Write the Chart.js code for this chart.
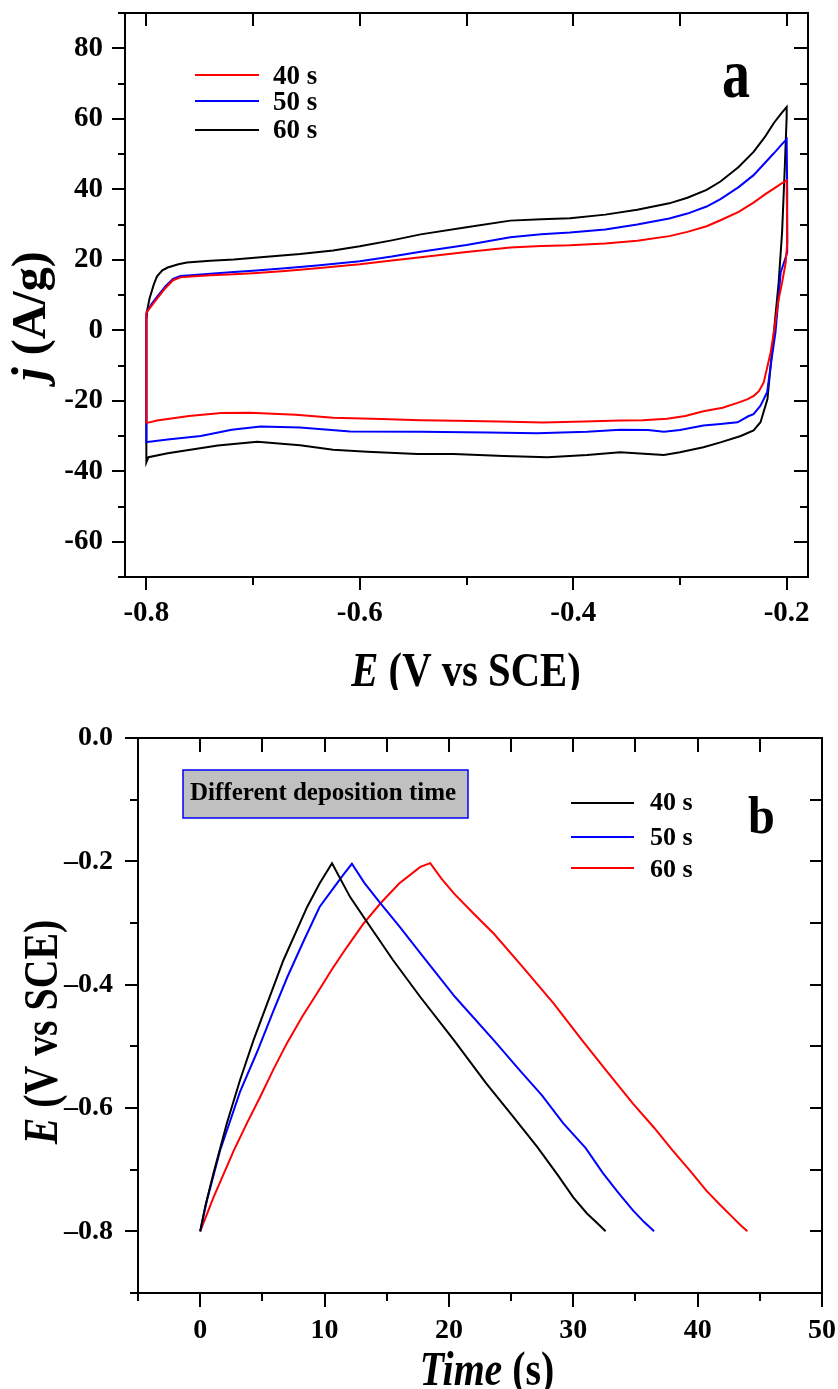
<!DOCTYPE html>
<html>
<head>
<meta charset="utf-8">
<script src="https://cdn.jsdelivr.net/npm/chart.js@4.4.1/dist/chart.umd.min.js"></script>
<style>
  html, body { margin: 0; padding: 0; background: #fff; }
  #wrap { position: relative; width: 838px; height: 1389px; overflow: hidden; }
  canvas { position: absolute; left: 0; }
  #cv { top: 0; }
  #gcd { top: 690px; }
</style>
</head>
<body>
<div id="wrap">
  <canvas id="cv" width="838" height="690"></canvas>
  <canvas id="gcd" width="838" height="699"></canvas>
</div>
<script>
// ---- (a) cyclic voltammograms: potential E (V vs SCE) and current density j (A/g) ----
const cvLabels = ['40 s', '50 s', '60 s'];
const cvColors = ['#ff0000', '#0000ff', '#000000'];

const cvE40 = [-0.800, -0.795, -0.790, -0.782, -0.775, -0.768, -0.755, -0.740, -0.718, -0.700, -0.670, -0.640, -0.600, -0.570, -0.543, -0.500, -0.459, -0.430, -0.403, -0.370, -0.340, -0.310, -0.293, -0.275, -0.262, -0.245, -0.231, -0.220, -0.212, -0.205, -0.200,
  -0.1994, -0.2010, -0.2043, -0.2075, -0.2120, -0.2150, -0.2215, -0.2260, -0.2308, -0.2370, -0.2460, -0.2600, -0.2780, -0.2950, -0.3120, -0.3350, -0.3560, -0.3900, -0.4280, -0.4700, -0.5100, -0.5430, -0.5800, -0.6250, -0.6600, -0.7030, -0.7300, -0.7600, -0.7900, -0.7980, -0.8000, -0.8000];
const cvJ40 = [5, 7, 9, 12, 14.2, 15, 15.3, 15.6, 15.9, 16.2, 16.8, 17.6, 18.7, 19.8, 20.7, 22.2, 23.5, 23.9, 24.1, 24.6, 25.4, 26.7, 27.9, 29.5, 31.2, 33.6, 36.2, 38.6, 40.2, 41.6, 42.5,
  24.9, 19, 13.5, 8.8, -0.6, -6.3, -14.8, -17.3, -18.6, -19.6, -20.6, -22, -23, -24.3, -25.1, -25.5, -25.6, -25.9, -26.2, -25.9, -25.7, -25.5, -25.2, -24.8, -24, -23.4, -23.5, -24.3, -25.6, -26.2, -26.2, 5];

const cvE50 = [-0.800, -0.795, -0.790, -0.782, -0.775, -0.768, -0.755, -0.740, -0.718, -0.700, -0.670, -0.640, -0.600, -0.570, -0.543, -0.500, -0.459, -0.430, -0.403, -0.370, -0.340, -0.310, -0.293, -0.275, -0.262, -0.245, -0.231, -0.220, -0.212, -0.205, -0.200,
  -0.1995, -0.1995, -0.2056, -0.2105, -0.2145, -0.2183, -0.2245, -0.2310, -0.2360, -0.2460, -0.2620, -0.2780, -0.3000, -0.3150, -0.3300, -0.3560, -0.3870, -0.4340, -0.4800, -0.5430, -0.6090, -0.6560, -0.6930, -0.7200, -0.7490, -0.7800, -0.7990, -0.8000, -0.8000];
const cvJ50 = [5, 7.5, 9.5, 12.5, 14.6, 15.4, 15.7, 16, 16.5, 16.9, 17.6, 18.4, 19.6, 20.9, 22.3, 24.2, 26.4, 27.2, 27.7, 28.6, 30, 31.7, 33.1, 35.1, 37.2, 40.6, 44, 47.6, 50.2, 52.6, 54.2,
  40, 22, 16.4, -0.7, -9, -17.6, -21.4, -23.8, -24.4, -26.1, -26.6, -27, -28.3, -28.8, -28.3, -28.2, -28.8, -29.2, -29, -28.8, -28.7, -27.6, -27.3, -28.2, -30, -31, -31.7, -31.7, 5];

const cvE60 = [-0.800, -0.799, -0.797, -0.793, -0.790, -0.785, -0.780, -0.770, -0.762, -0.740, -0.718, -0.690, -0.656, -0.625, -0.600, -0.570, -0.543, -0.500, -0.459, -0.430, -0.403, -0.370, -0.340, -0.310, -0.293, -0.275, -0.262, -0.245, -0.231, -0.220, -0.212, -0.205, -0.200,
  -0.2000, -0.2017, -0.2043, -0.2075, -0.2120, -0.2150, -0.2180, -0.2245, -0.2310, -0.2430, -0.2620, -0.2780, -0.3000, -0.3150, -0.3300, -0.3560, -0.3870, -0.4240, -0.4650, -0.5120, -0.5460, -0.5930, -0.6250, -0.6560, -0.6960, -0.7330, -0.7800, -0.7980, -0.8000, -0.8000];
const cvJ60 = [3, 6, 9, 13, 15.3, 17, 17.8, 18.7, 19.2, 19.7, 20.1, 20.8, 21.6, 22.6, 23.8, 25.5, 27.2, 29.2, 31.1, 31.5, 31.8, 32.8, 34.2, 36, 37.6, 39.8, 42.2, 46.3, 50.6, 55, 58.8, 61.5, 63.3,
  60.5, 46.5, 27.7, 13.5, -0.6, -10.1, -19.5, -26.1, -28.4, -30, -31.8, -33.2, -34.6, -35.4, -35.1, -34.6, -35.4, -36, -35.7, -35.1, -35.1, -34.5, -33.9, -32.6, -31.6, -32.7, -34.9, -36, -37.5, 3];

const cvTickE = [-0.8, -0.6, -0.4, -0.2];
const cvTickJ = [-60, -40, -20, 0, 20, 40, 60, 80];

// ---- (b) galvanostatic charge/discharge: time (s) and potential E (V vs SCE) ----
const gcdLabels = ['40 s', '50 s', '60 s'];
const gcdColors = ['#000000', '#0000ff', '#ff0000'];

const gcdT40 = [0, 0.4, 1.07, 2.14, 3.2, 4.29, 5.4, 6.7, 8.6, 9.6, 10.6, 12.06, 13.4, 15.5, 17.7, 20.4, 23.0, 25.0, 27.1, 28.8, 30.0, 31.1, 32.0, 32.6];
const gcdE40 = [-0.8, -0.76, -0.706, -0.625, -0.555, -0.49, -0.43, -0.36, -0.274, -0.236, -0.203, -0.258, -0.298, -0.36, -0.42, -0.49, -0.56, -0.61, -0.663, -0.71, -0.745, -0.771, -0.788, -0.80];

const gcdT50 = [0, 0.54, 1.6, 3.2, 4.6, 5.8, 7.0, 8.3, 9.6, 10.7, 11.5, 12.2, 13.2, 14.5, 16.0, 17.7, 20.5, 23.6, 25.7, 27.5, 29.2, 31.0, 32.4, 33.6, 34.8, 35.7, 36.5];
const gcdE50 = [-0.8, -0.75, -0.669, -0.574, -0.508, -0.447, -0.388, -0.33, -0.274, -0.244, -0.222, -0.204, -0.235, -0.268, -0.305, -0.349, -0.42, -0.49, -0.539, -0.58, -0.625, -0.665, -0.706, -0.737, -0.766, -0.785, -0.80];

const gcdT60 = [0, 1.07, 2.7, 3.8, 4.8, 5.9, 7.0, 8.2, 9.4, 10.6, 11.8, 13.1, 14.5, 16.0, 17.7, 18.5, 19.4, 20.4, 22.0, 23.6, 25.7, 28.4, 30.7, 32.8, 34.8, 36.5, 38.0, 39.4, 40.7, 41.8, 42.8, 43.5, 44.0];
const gcdE60 = [-0.8, -0.745, -0.669, -0.623, -0.583, -0.537, -0.494, -0.452, -0.414, -0.375, -0.339, -0.302, -0.268, -0.236, -0.209, -0.203, -0.228, -0.252, -0.285, -0.317, -0.366, -0.43, -0.49, -0.543, -0.593, -0.632, -0.669, -0.702, -0.734, -0.757, -0.777, -0.791, -0.80];

const gcdTickT = [0, 10, 20, 30, 40, 50];
const gcdTickE = [0, -0.2, -0.4, -0.6, -0.8];

// ---- helpers ----
const SERIF = '"Liberation Serif", "Times New Roman", Times, serif';
const fontOf = (size, italic) => (italic ? 'italic ' : '') + 'bold ' + size + 'px ' + SERIF;
const zip = (xs, ys) => xs.map((v, i) => ({ x: v, y: ys[i] }));
const steps = (from, to, step) => {
  const out = [];
  for (let i = 0; from + i * step <= to + 1e-9; i++) out.push(+(from + i * step).toFixed(6));
  return out;
};

// Text made of differently styled runs (italic symbol + upright unit), optionally rotated / condensed
function drawRich(ctx, parts, size, x, y, rotate, sx, align) {
  ctx.save();
  ctx.translate(x, y);
  if (rotate) ctx.rotate(rotate);
  ctx.scale(sx, 1);
  ctx.textBaseline = 'alphabetic';
  ctx.textAlign = 'left';
  ctx.fillStyle = '#000';
  let total = 0;
  const widths = parts.map(p => {
    ctx.font = fontOf(size, p.italic);
    const w = ctx.measureText(p.text).width;
    total += w;
    return w;
  });
  let cx = align === 'left' ? 0 : -total / 2;
  parts.forEach((p, i) => {
    ctx.font = fontOf(size, p.italic);
    ctx.fillText(p.text, cx, 0);
    cx += widths[i];
  });
  ctx.restore();
}

// Closed plot frame with major/minor tick marks on all four sides
const frameTicks = {
  id: 'frameTicks',
  afterDatasetsDraw(chart, args, o) {
    const { ctx, chartArea: a, scales: { x, y } } = chart;
    ctx.save();
    ctx.strokeStyle = '#000';
    ctx.lineWidth = o.width;
    ctx.lineCap = 'butt';
    const seg = (x1, y1, x2, y2) => { ctx.beginPath(); ctx.moveTo(x1, y1); ctx.lineTo(x2, y2); ctx.stroke(); };
    (o.left || []).forEach(g => g.values.forEach(v => { const p = Math.round(y.getPixelForValue(v)); seg(a.left, p, a.left - g.len, p); }));
    (o.right || []).forEach(g => g.values.forEach(v => { const p = Math.round(y.getPixelForValue(v)); seg(a.right, p, a.right + g.len, p); }));
    (o.bottom || []).forEach(g => g.values.forEach(v => { const p = Math.round(x.getPixelForValue(v)); seg(p, a.bottom, p, a.bottom + g.len); }));
    (o.top || []).forEach(g => g.values.forEach(v => { const p = Math.round(x.getPixelForValue(v)); seg(p, a.top, p, a.top - g.len); }));
    ctx.strokeRect(a.left, a.top, a.right - a.left, a.bottom - a.top);
    ctx.restore();
  }
};

// Legend, panel letter, note box and axis titles
const decor = {
  id: 'decor',
  afterDraw(chart, args, o) {
    const ctx = chart.ctx;
    ctx.save();
    if (o.box) {
      const b = o.box;
      ctx.fillStyle = b.fill;
      ctx.fillRect(b.x, b.y, b.w, b.h);
      ctx.strokeStyle = b.stroke;
      ctx.lineWidth = b.lineWidth;
      ctx.strokeRect(b.x, b.y, b.w, b.h);
      drawRich(ctx, [{ text: b.text }], b.size, b.textX, b.baseline, 0, 1, 'left');
    }
    const L = o.legend;
    chart.data.datasets.forEach((ds, i) => {
      ctx.strokeStyle = ds.borderColor;
      ctx.lineWidth = L.lineWidth;
      ctx.beginPath();
      ctx.moveTo(L.x1, L.rows[i]);
      ctx.lineTo(L.x2, L.rows[i]);
      ctx.stroke();
      drawRich(ctx, [{ text: ds.label }], L.size, L.textX, L.baselines[i], 0, 1, 'left');
    });
    const P = o.panel;
    drawRich(ctx, [{ text: P.text }], P.size, P.x, P.baseline, 0, P.sx, 'left');
    const X = o.xTitle;
    drawRich(ctx, X.parts, X.size, X.x, X.baseline, 0, X.sx, 'center');
    const Y = o.yTitle;
    drawRich(ctx, Y.parts, Y.size, Y.baseline, Y.y, -Math.PI / 2, Y.sx, 'center');
    ctx.restore();
  }
};

function axis(min, max, tickValues, fmt, size, padding, fitFn) {
  return {
    type: 'linear',
    min, max,
    grid: { display: false, drawTicks: false },
    border: { display: false },
    afterBuildTicks: s => { s.ticks = tickValues.map(v => ({ value: v })); },
    afterFit: s => {
      fitFn(s);
      s.paddingTop = 0; s.paddingBottom = 0; s.paddingLeft = 0; s.paddingRight = 0;
    },
    ticks: {
      padding,
      autoSkip: false,
      maxRotation: 0,
      color: '#000',
      font: { family: SERIF, size, weight: 'bold' },
      callback: fmt
    }
  };
}

const lineSet = (label, color, pts) => ({
  label, data: pts, borderColor: color, backgroundColor: color,
  borderWidth: 2, pointRadius: 0, showLine: true, tension: 0, fill: false
});

// ---- chart (a) ----
new Chart(document.getElementById('cv'), {
  type: 'scatter',
  data: {
    datasets: [
      lineSet(cvLabels[0], cvColors[0], zip(cvE40, cvJ40)),
      lineSet(cvLabels[1], cvColors[1], zip(cvE50, cvJ50)),
      lineSet(cvLabels[2], cvColors[2], zip(cvE60, cvJ60))
    ]
  },
  options: {
    responsive: false,
    animation: false,
    devicePixelRatio: 1,
    layout: { padding: { left: 0, top: 13, right: 30, bottom: 0 } },
    scales: {
      x: axis(-0.82, -0.18, cvTickE, v => v.toFixed(1), 29, 19, s => { s.height = 113; }),
      y: axis(-70, 90, cvTickJ, v => String(v), 29, 22, s => { s.width = 125; })
    },
    plugins: {
      legend: { display: false },
      tooltip: { enabled: false },
      frameTicks: {
        width: 2,
        left: [{ values: steps(-70, 90, 10), len: 7 }, { values: cvTickJ, len: 13 }],
        right: [{ values: steps(-70, 90, 10), len: -8 }, { values: cvTickJ, len: -14 }],
        bottom: [{ values: steps(-0.8, -0.2, 0.1), len: 8 }, { values: cvTickE, len: 13 }],
        top: [{ values: steps(-0.8, -0.2, 0.1), len: -13 }]
      },
      decor: {
        legend: { x1: 195, x2: 259, rows: [75, 101, 130], textX: 273, baselines: [84, 110, 138], size: 27, lineWidth: 2 },
        panel: { text: 'a', size: 70, x: 722, baseline: 97, sx: 0.8 },
        xTitle: { parts: [{ text: 'E', italic: true }, { text: ' (V vs SCE)' }], size: 49, x: 466, baseline: 686, sx: 0.83 },
        yTitle: { parts: [{ text: 'j', italic: true }, { text: ' (A/g)' }], size: 48, baseline: 45, y: 316, sx: 1 }
      }
    }
  },
  plugins: [frameTicks, decor]
});

// ---- chart (b) ----
new Chart(document.getElementById('gcd'), {
  type: 'scatter',
  data: {
    datasets: [
      lineSet(gcdLabels[0], gcdColors[0], zip(gcdT40, gcdE40)),
      lineSet(gcdLabels[1], gcdColors[1], zip(gcdT50, gcdE50)),
      lineSet(gcdLabels[2], gcdColors[2], zip(gcdT60, gcdE60))
    ]
  },
  options: {
    responsive: false,
    animation: false,
    devicePixelRatio: 1,
    layout: { padding: { left: 0, top: 48, right: 16, bottom: 0 } },
    scales: {
      x: axis(-5, 50, gcdTickT, v => String(v), 28, 21, s => { s.height = 96; }),
      y: axis(-0.9, 0, gcdTickE, v => (v === 0 ? '0.0' : '\u2013' + Math.abs(v).toFixed(1)), 28, 25, s => { s.width = 138; })
    },
    plugins: {
      legend: { display: false },
      tooltip: { enabled: false },
      frameTicks: {
        width: 2,
        left: [{ values: steps(-0.9, 0, 0.1), len: 8 }, { values: gcdTickE, len: 13 }],
        right: [{ values: steps(-0.8, -0.1, 0.1), len: -12 }],
        bottom: [{ values: steps(-5, 50, 5), len: 8 }, { values: gcdTickT, len: 14 }],
        top: [{ values: steps(0, 45, 5), len: -14 }]
      },
      decor: {
        box: { x: 183, y: 80, w: 285, h: 48, fill: '#c0c0c0', stroke: '#0000ff', lineWidth: 1.5,
               text: 'Different deposition time', size: 25, textX: 190, baseline: 110 },
        legend: { x1: 571, x2: 634, rows: [113, 147, 178], textX: 650, baselines: [120, 155, 187], size: 26, lineWidth: 2 },
        panel: { text: 'b', size: 53, x: 748, baseline: 143, sx: 0.91 },
        xTitle: { parts: [{ text: 'Time', italic: true }, { text: ' (s)' }], size: 48, x: 487, baseline: 695, sx: 0.83 },
        yTitle: { parts: [{ text: 'E', italic: true }, { text: ' (V vs SCE)' }], size: 48, baseline: 57, y: 342, sx: 0.83 }
      }
    }
  },
  plugins: [frameTicks, decor]
});
</script>
</body>
</html>
